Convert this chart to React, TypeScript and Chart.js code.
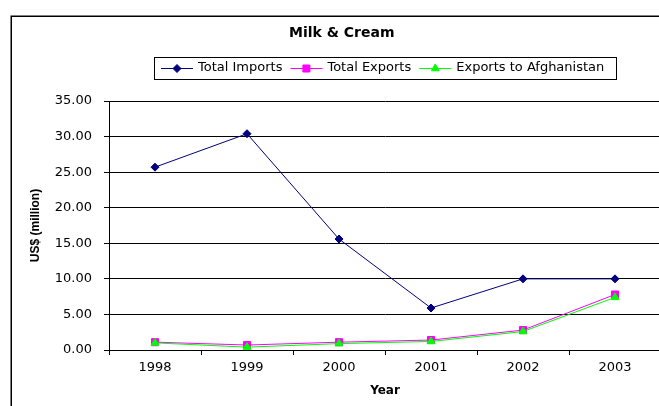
import React, { useEffect, useRef } from 'react';
import { Chart, registerables } from 'chart.js';

Chart.register(...registerables);

const chartTitle = 'Milk & Cream';
const xAxisTitle = 'Year';
const yAxisTitle = 'US$ (million)';
const years = ['1998', '1999', '2000', '2001', '2002', '2003'];
const totalImports = [25.7, 30.4, 15.6, 5.9, 10.0, 10.0];
const totalExports = [1.1, 0.7, 1.1, 1.4, 2.8, 7.8];
const exportsAfghanistan = [1.0, 0.4, 0.9, 1.2, 2.6, 7.4];
const yMin = 0;
const yMax = 35;
const yStep = 5;

const W = 680;
const H = 420;

const framePlugin = {
  id: 'frame',
  beforeDraw(chart: any) {
    const ctx = chart.ctx;
    ctx.save();
    ctx.fillStyle = '#ffffff';
    ctx.fillRect(0, 0, chart.width, chart.height);
    ctx.strokeStyle = '#000000';
    ctx.lineWidth = 1.5;
    ctx.strokeRect(11.25, 16.25, 2000, 2000);
    ctx.restore();
  },
};

function drawMarker(ctx: CanvasRenderingContext2D, style: string, x: number, y: number, color: string) {
  ctx.fillStyle = color;
  ctx.strokeStyle = color;
  ctx.lineWidth = 1;
  ctx.beginPath();
  if (style === 'rectRot') {
    const r = 4;
    ctx.moveTo(x - r, y);
    ctx.lineTo(x, y - r);
    ctx.lineTo(x + r, y);
    ctx.lineTo(x, y + r);
    ctx.closePath();
  } else if (style === 'rect') {
    const s = 3.5;
    ctx.rect(x - s, y - s, 2 * s, 2 * s);
  } else {
    const r = 4.5;
    ctx.moveTo(x, y - r);
    ctx.lineTo(x + r * 0.866, y + r * 0.5);
    ctx.lineTo(x - r * 0.866, y + r * 0.5);
    ctx.closePath();
  }
  ctx.fill();
  ctx.stroke();
}

const legendPlugin = {
  id: 'boxLegend',
  afterDraw(chart: any) {
    const ctx = chart.ctx as CanvasRenderingContext2D;
    ctx.save();
    const boxL = 154.5;
    const boxR = 616.5;
    const boxT = 57.5;
    const boxB = 79.5;
    ctx.fillStyle = '#ffffff';
    ctx.fillRect(boxL, boxT, boxR - boxL, boxB - boxT);
    ctx.strokeStyle = '#000000';
    ctx.lineWidth = 1;
    ctx.strokeRect(boxL, boxT, boxR - boxL, boxB - boxT);
    ctx.font = '13px "DejaVu Sans"';
    ctx.textBaseline = 'middle';
    ctx.textAlign = 'left';
    const cy = 68;
    let x = 161;
    chart.data.datasets.forEach((ds: any) => {
      const color = ds.borderColor as string;
      ctx.strokeStyle = color;
      ctx.lineWidth = 1;
      ctx.beginPath();
      ctx.moveTo(x, cy + 0.5);
      ctx.lineTo(x + 32, cy + 0.5);
      ctx.stroke();
      drawMarker(ctx, ds.pointStyle, x + 16, cy + 0.5, color);
      ctx.fillStyle = '#000000';
      ctx.fillText(ds.label, x + 37, cy);
      x = x + 37 + ctx.measureText(ds.label).width + 8;
    });
    ctx.restore();
  },
};

export default function App() {
  const canvasRef = useRef<HTMLCanvasElement | null>(null);

  useEffect(() => {
    if (!canvasRef.current) return;
    const padLeft = 22.6;
    const padRight = 19;
    const chart = new Chart(canvasRef.current, {
      type: 'line',
      data: {
        labels: years,
        datasets: [
          {
            label: 'Total Imports',
            data: totalImports,
            borderColor: '#000080',
            backgroundColor: '#000080',
            pointBackgroundColor: '#000080',
            pointBorderColor: '#000080',
            pointStyle: 'rectRot',
            pointRadius: 4,
            borderWidth: 1,
            tension: 0,
            order: 2,
          },
          {
            label: 'Total Exports',
            data: totalExports,
            borderColor: '#FF00FF',
            backgroundColor: '#FF00FF',
            pointBackgroundColor: '#FF00FF',
            pointBorderColor: '#FF00FF',
            pointStyle: 'rect',
            pointRadius: 5,
            borderWidth: 1,
            tension: 0,
            order: 1,
          },
          {
            label: 'Exports to Afghanistan',
            data: exportsAfghanistan,
            borderColor: '#00FF00',
            backgroundColor: '#00FF00',
            pointBackgroundColor: '#00FF00',
            pointBorderColor: '#00FF00',
            pointStyle: 'triangle',
            pointRadius: 4.5,
            borderWidth: 1,
            tension: 0,
            order: 0,
          },
        ],
      },
      options: {
        animation: false,
        responsive: false,
        maintainAspectRatio: false,
        layout: { padding: { left: padLeft, right: padRight, top: 0, bottom: 0 } },
        plugins: {
          legend: { display: false },
          tooltip: { enabled: false },
          title: {
            display: true,
            text: chartTitle,
            color: '#000000',
            font: { family: '"DejaVu Sans"', size: 14, weight: 'bold', lineHeight: 1.2 },
            padding: { top: 25, bottom: 59.2 },
          },
        },
        scales: {
          x: {
            type: 'category',
            offset: true,
            grid: {
              offset: true,
              drawOnChartArea: false,
              drawTicks: true,
              tickLength: 5,
              color: '#000000',
            },
            border: { color: '#000000', width: 1 },
            ticks: {
              color: '#000000',
              font: { family: '"DejaVu Sans"', size: 13 },
              padding: 5,
              maxRotation: 0,
              autoSkip: false,
            },
            title: {
              display: true,
              text: xAxisTitle,
              color: '#000000',
              font: { family: '"DejaVu Sans"', size: 12, weight: 'bold', lineHeight: 1.2 },
              padding: { top: 0, bottom: 21.8 },
            },
            afterFit: (s: any) => {
              s.height = H - 350;
            },
          },
          y: {
            min: yMin,
            max: yMax,
            grid: {
              color: '#000000',
              lineWidth: 1,
              tickLength: 5,
            },
            border: { color: '#000000', width: 1 },
            ticks: {
              stepSize: yStep,
              color: '#000000',
              font: { family: '"DejaVu Sans"', size: 13 },
              padding: 12,
              callback: (v: any) => Number(v).toFixed(2),
            },
            title: {
              display: true,
              text: yAxisTitle,
              color: '#000000',
              font: { family: '"Liberation Sans"', size: 12, weight: 'bold', lineHeight: 1.2 },
              padding: { top: 6.2, bottom: 0 },
            },
            afterFit: (s: any) => {
              s.width = 109 - padLeft;
            },
          },
        },
      },
      plugins: [framePlugin, legendPlugin],
    } as any);
    return () => chart.destroy();
  }, []);

  return (
    <div style={{ position: 'absolute', left: 0, top: 0, width: 659, height: 406, overflow: 'hidden', background: '#ffffff' }}>
      <canvas ref={canvasRef} width={W} height={H} style={{ display: 'block', width: W, height: H }} />
    </div>
  );
}
